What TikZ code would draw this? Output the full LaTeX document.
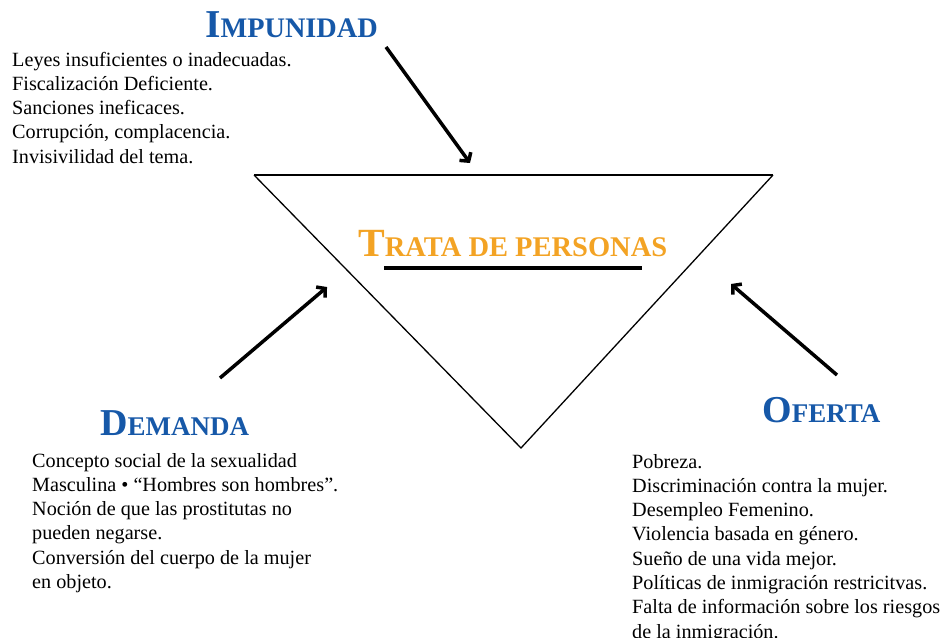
\documentclass[tikz,border=0pt]{standalone}
\usepackage{fontspec}
\setmainfont{Liberation Serif}
\usetikzlibrary{arrows.meta}
\definecolor{azul}{RGB}{22,88,168}
\definecolor{naranja}{RGB}{243,163,36}
\newcommand{\versal}[2]{{\fontsize{38}{38}\selectfont #1}{\fontsize{27}{27}\selectfont #2}}
\begin{document}
\begin{tikzpicture}[x=1pt,y=-1pt,
    flecha/.style={line width=3.5pt,-{Straight Barb[length=6pt,width=14pt]}},
    titulo/.style={anchor=base west,inner sep=0pt,text=azul,font=\bfseries},
    cuerpo/.style={anchor=base west,inner sep=0pt,align=left,font=\fontsize{20.2}{24.3}\selectfont}]
            \useasboundingbox (0,0) rectangle (941,637);
            \draw[line width=1.3pt] (254,175) coordinate (A) -- (521,448) coordinate (C) -- (773,175) coordinate (B);
            \draw[line width=2.2pt] (A) -- (B);
            \node[titulo] (impunidad) at (205,37) {{\fontsize{39.5}{40}\selectfont I}{\fontsize{28.3}{28}\selectfont MPUNIDAD}};
            \node[cuerpo] (leyes) at (12,163.2) {Leyes insuficientes o inadecuadas.\\Fiscalización Deficiente.\\Sanciones ineficaces.\\Corrupción, complacencia.\\Invisivilidad del tema.};
            \node[titulo,text=naranja] (trata) at (358,256) {{\fontsize{40}{40}\selectfont T}{\fontsize{28.5}{29}\selectfont RATA DE PERSONAS}};
            \draw[line width=4pt] (384,268) -- (642,268);
            \node[titulo] (demanda) at (100,435) {\versal{D}{EMANDA}};
            \node[cuerpo] (concepto) at (32,588.5) {Concepto social de la sexualidad\\Masculina • “Hombres son hombres”.\\Noción de que las prostitutas no\\pueden negarse.\\Conversión del cuerpo de la mujer\\en objeto.};
            \node[titulo] (oferta) at (762,422) {\versal{O}{FERTA}};
            \node[cuerpo] (pobreza) at (632,638.1) {Pobreza.\\Discriminación contra la mujer.\\Desempleo Femenino.\\Violencia basada en género.\\Sueño de una vida mejor.\\Políticas de inmigración restricitvas.\\Falta de información sobre los riesgos\\de la inmigración.};
            \coordinate (I1) at (386,47);
            \coordinate (I2) at (470,163);
            \coordinate (D1) at (220,378);
            \coordinate (D2) at (327,287);
            \coordinate (O1) at (837,375);
            \coordinate (O2) at (731,284);
            \draw[flecha] (I1) -- (I2);
            \draw[flecha] (D1) -- (D2);
            \draw[flecha] (O1) -- (O2);
        \end{tikzpicture}
\end{document}
